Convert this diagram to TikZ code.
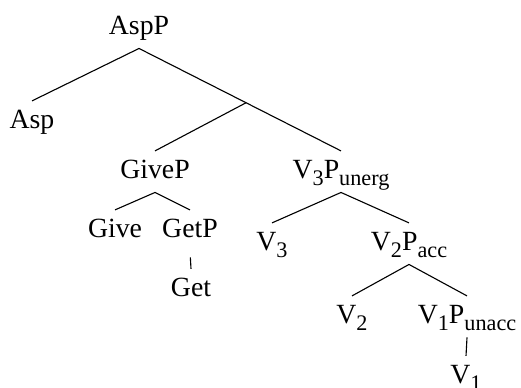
\documentclass[tikz,border=0pt]{standalone}
\usepackage{fontspec}
\setmainfont{Liberation Serif}
\usetikzlibrary{calc}
\newcommand{\low}[1]{\raisebox{-3.2pt}{\fontsize{10}{10}\selectfont #1}}

\begin{document}
\begin{tikzpicture}[
    x=0.45pt, y=-0.45pt,
    every node/.style={font=\fontsize{12.5}{15}\selectfont},
    cat/.style={anchor=base, inner xsep=0pt, inner ysep=3.5pt, text height=8.5pt, text depth=2.8pt},
    branch/.style={line width=0.5pt}
]
\useasboundingbox (0,0) rectangle (521,387);
\node[cat] (asp-p) at (139,34) {AspP};
\node[cat] (asp) at (32,128) {Asp};
\node[cat] (give-p) at (155,178) {GiveP};
\node[cat] (v3-p) at (341,178) {V\low{3}P\low{unerg}};
\node[cat] (give) at (115,237) {Give};
\node[cat] (get-p) at (190,237) {GetP};
\node[cat] (get) at (191,296) {Get};
\node[cat] (v3) at (272,250) {V\low{3}};
\node[cat] (v2-p) at (409,250) {V\low{2}P\low{acc}};
\node[cat] (v2) at (352,323) {V\low{2}};
\node[cat] (v1-p) at (467,323) {V\low{1}P\low{unacc}};
\node[cat] (v1) at (466,383) {V\low{1}};
\coordinate (x-bar) at ($(asp-p.south)!0.53!(v3-p.north)$);
\draw[branch] (asp-p.south) -- (asp.north);
\draw[branch] (asp-p.south) -- (v3-p.north);
\draw[branch] (x-bar) -- (give-p.north);
\draw[branch] (give-p.south) -- (give.north);
\draw[branch] (give-p.south) -- (get-p.north);
\draw[branch, shorten <=2.7pt] (get-p.south) -- (get.north);
\draw[branch] (v3-p.south) -- (v3.north);
\draw[branch] (v3-p.south) -- (v2-p.north);
\draw[branch] (v2-p.south) -- (v2.north);
\draw[branch] (v2-p.south) -- (v1-p.north);
\draw[branch] (v1-p.south) -- (v1.north);
\end{tikzpicture}
\end{document}
